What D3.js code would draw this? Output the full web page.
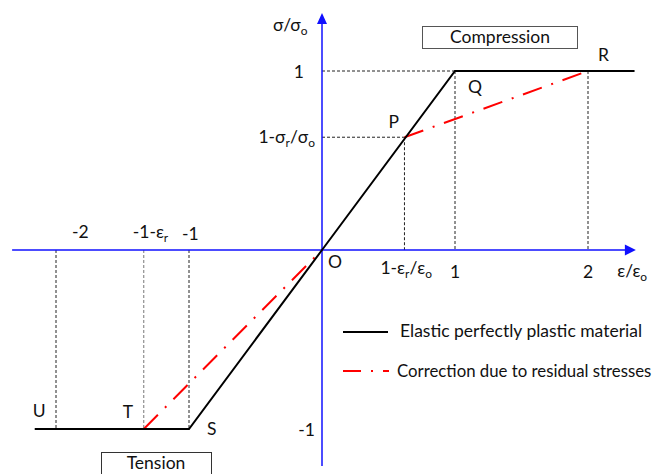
<!DOCTYPE html>
<html>
<head>
<meta charset="utf-8">
<script src="https://cdn.jsdelivr.net/npm/d3@7"></script>
<style>
  html, body { margin: 0; padding: 0; background: #fff; }
  svg { display: block; font-family: Lato, "Open Sans", sans-serif; }
</style>
</head>
<body>
<svg id="chart" width="660" height="474"></svg>
<script>
// ---- data (strain ratio ε/εo, stress ratio σ/σo) ----
const elasticX  = [-2.16, -1, 0, 1, 2.35];
const elasticY  = [-1, -1, 0, 1, 1];
const residualX = [-1.34, 0, 0.62, 2];
const residualY = [-1, 0, 0.63, 1];
const pointNames = ["U", "T", "S", "O", "P", "Q", "R"];
const pointX     = [-2.16, -1.34, -1, 0, 0.62, 1, 2];
const pointY     = [-1, -1, -1, 0, 0.63, 1, 1];
const xTickValues = [-2, -1.34, -1, 0.62, 1, 2];
const yTickValues = [1, 0.63, -1];
const legendLabels = ["Elastic perfectly plastic material", "Correction due to residual stresses"];
const boxLabels = ["Compression", "Tension"];

const svg = d3.select("#chart");
const x = d3.scaleLinear().domain([0, 1]).range([322, 455]);
const y = d3.scaleLinear().domain([0, 1]).range([250, 71]);

// guide dashed lines
const guides = [
  [[0, 1], [1, 1]], [[0, 0.63], [0.62, 0.63]],
  [[0.62, 0.63], [0.62, 0]], [[1, 1], [1, 0]], [[2, 1], [2, 0]],
  [[-2, 0], [-2, -1]], [[-1.34, 0], [-1.34, -1]], [[-1, 0], [-1, -1]]
];
svg.append("g").selectAll("line").data(guides).join("line")
  .attr("x1", d => x(d[0][0])).attr("y1", d => y(d[0][1]))
  .attr("x2", d => x(d[1][0])).attr("y2", d => y(d[1][1]))
  .attr("stroke", (d, i) => i === 6 ? "#777" : "#222")
  .attr("stroke-width", 1).attr("stroke-dasharray", "3,2");

// axes
const axisColor = "#1010ff";
svg.append("line").attr("x1", x(-2.33)).attr("x2", x(2.31)).attr("y1", y(0)).attr("y2", y(0))
  .attr("stroke", axisColor).attr("stroke-width", 1.5);
svg.append("line").attr("x1", x(0)).attr("x2", x(0)).attr("y1", y(-1.207)).attr("y2", y(1.27))
  .attr("stroke", axisColor).attr("stroke-width", 1.5);
const xe = x(2.36), ye = y(1.324);
svg.append("path").attr("d", `M${xe},${y(0)} L${xe - 11},${y(0) - 5.5} L${xe - 11},${y(0) + 5.5} Z`).attr("fill", axisColor);
svg.append("path").attr("d", `M${x(0)},${ye} L${x(0) - 5},${ye + 11} L${x(0) + 5},${ye + 11} Z`).attr("fill", axisColor);

// curves
const line = d3.line().x(d => x(d[0])).y(d => y(d[1]));
const residualPts = residualX.map((v, i) => [v, residualY[i]]);
// the O–P part of the correction coincides with the elastic line; draw T–O and P–R
[residualPts.slice(0, 2), residualPts.slice(2)].forEach(seg => {
  svg.append("path").datum(seg)
    .attr("d", line).attr("fill", "none").attr("stroke", "#ff0000")
    .attr("stroke-width", 2).attr("stroke-dasharray", "20,10,2,10");
});
svg.append("path").datum(elasticX.map((v, i) => [v, elasticY[i]]))
  .attr("d", line).attr("fill", "none").attr("stroke", "#000")
  .attr("stroke-width", 2).attr("stroke-linejoin", "miter");

// text helper: strings are normal text, {sub: ".."} are subscripts
const fs = 17.5;
function label(px, py, parts, anchor, size) {
  const f = size || fs;
  const t = svg.append("text").attr("x", px).attr("y", py)
    .attr("font-size", f).attr("fill", "#111").attr("text-anchor", anchor || "start");
  let pendingDy = 0;
  parts.forEach(p => {
    if (typeof p === "string") {
      t.append("tspan").attr("dy", pendingDy).text(p);
      pendingDy = 0;
    } else {
      t.append("tspan").attr("font-size", f * 0.68).attr("dy", 4).text(p.sub);
      pendingDy = -4;
    }
  });
  return t;
}

// point labels (offsets from the points)
const labelOffsets = [[-2, -12], [-21, -11], [18, 6], [6, 18], [-16, -9], [13, 22], [10, -10]];
pointNames.forEach((n, i) => {
  label(x(pointX[i]) + labelOffsets[i][0], y(pointY[i]) + labelOffsets[i][1], [n]);
});

// x tick labels
label(x(xTickValues[0]) + 16, y(0) - 12, ["-2"]);
label(x(xTickValues[1]) - 11, y(0) - 12, ["-1-\u03B5", {sub: "r"}]);
label(x(xTickValues[2]) - 7, y(0) - 10, ["-1"]);
label(x(xTickValues[3]) - 24, y(0) + 24, ["1-\u03B5", {sub: "r"}, "/\u03B5", {sub: "o"}]);
label(x(xTickValues[4]), y(0) + 28, ["1"], "middle");
label(x(xTickValues[5]), y(0) + 28, ["2"], "middle");
label(x(2.22), y(0) + 27, ["\u03B5/\u03B5", {sub: "o"}]);

// y tick labels
label(x(0) - 18, y(yTickValues[0]) + 7, ["1"], "end");
label(x(0) - 7, y(yTickValues[1]) + 6, ["1-\u03C3", {sub: "r"}, "/\u03C3", {sub: "o"}], "end");
label(x(0) - 7, y(yTickValues[2]) + 7, ["-1"], "end");
label(x(0) - 49, 31, ["\u03C3/\u03C3", {sub: "o"}]);

// boxes
svg.append("rect").attr("x", 422.5).attr("y", 26.5).attr("width", 155).attr("height", 22)
  .attr("fill", "#fff").attr("stroke", "#555").attr("stroke-width", 1);
label(500, 43, [boxLabels[0]], "middle");
svg.append("rect").attr("x", 101.5).attr("y", 452.5).attr("width", 110).attr("height", 30)
  .attr("fill", "#fff").attr("stroke", "#333").attr("stroke-width", 1);
label(156, 469, [boxLabels[1]], "middle");

// legend
svg.append("line").attr("x1", 343).attr("x2", 388).attr("y1", 332).attr("y2", 332)
  .attr("stroke", "#000").attr("stroke-width", 2);
label(400, 337, [legendLabels[0]]);
svg.append("line").attr("x1", 343).attr("x2", 389).attr("y1", 371).attr("y2", 371)
  .attr("stroke", "#ff0000").attr("stroke-width", 2).attr("stroke-dasharray", "18,10,2,10");
label(397, 377, [legendLabels[1]], "start", 16.8);
</script>
</body>
</html>
